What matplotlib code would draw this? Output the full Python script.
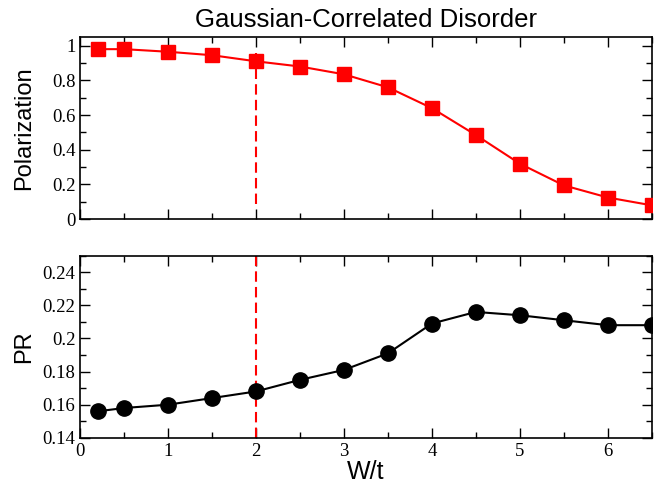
import matplotlib
matplotlib.use("Agg")
import matplotlib.pyplot as plt
from matplotlib.ticker import MultipleLocator, FormatStrFormatter

# disorder strength W/t
w_values = [0.2, 0.5, 1.0, 1.5, 2.0, 2.5, 3.0, 3.5, 4.0, 4.5, 5.0, 5.5, 6.0, 6.5]
polarization = [0.98, 0.98, 0.965, 0.945, 0.91, 0.88, 0.835, 0.76, 0.64, 0.485,
                0.32, 0.195, 0.125, 0.08]
pr_values = [0.156, 0.158, 0.160, 0.164, 0.168, 0.175, 0.181, 0.191, 0.209,
             0.216, 0.214, 0.211, 0.208, 0.208]

w_transition = 2.0
pol_line_span = [0.09, 0.96]
pr_line_span = [0.14, 0.25]

serif = "Liberation Serif"
sans = "Liberation Sans"


def style_axis(ax, ymajor, yminor):
    ax.xaxis.set_major_locator(MultipleLocator(1))
    ax.xaxis.set_minor_locator(MultipleLocator(0.5))
    ax.yaxis.set_major_locator(MultipleLocator(ymajor))
    ax.yaxis.set_minor_locator(MultipleLocator(yminor))
    ax.tick_params(which="both", direction="in", top=True, right=True, width=1.0)
    ax.tick_params(which="major", length=7, labelsize=13.5)
    ax.tick_params(which="minor", length=4)
    for lbl in ax.get_xticklabels() + ax.get_yticklabels():
        lbl.set_fontfamily(serif)
    for sp in ax.spines.values():
        sp.set_linewidth(1.2)


fig, (ax1, ax2) = plt.subplots(2, 1, figsize=(6.57, 4.87), dpi=100)
fig.subplots_adjust(left=0.122, right=0.992, top=0.924, bottom=0.101, hspace=0.2)

ax1.plot(w_values, polarization, color="red", linewidth=1.5, marker="s",
         markersize=10, zorder=3)
ax1.plot([w_transition, w_transition], pol_line_span, color="red",
         linestyle=(0, (5, 2.5)), linewidth=1.5)
ax1.set_xlim(0, 6.5)
ax1.set_ylim(0, 1.05)
ax1.yaxis.set_major_formatter(FormatStrFormatter("%g"))
style_axis(ax1, 0.2, 0.1)
ax1.tick_params(labelbottom=False)
ax1.set_ylabel("Polarization", fontsize=17, fontfamily=sans)
ax1.set_title("Gaussian-Correlated Disorder", fontsize=18.5, fontfamily=sans, pad=7)

ax2.plot(w_values, pr_values, color="black", linewidth=1.5, marker="o",
         markersize=11, zorder=3)
ax2.plot([w_transition, w_transition], pr_line_span, color="red",
         linestyle=(0, (5, 2.5)), linewidth=1.5)
ax2.set_xlim(0, 6.5)
ax2.set_ylim(0.14, 0.25)
ax2.yaxis.set_major_formatter(FormatStrFormatter("%g"))
style_axis(ax2, 0.02, 0.01)
ax2.set_ylabel("PR", fontsize=17, fontfamily=sans)
ax2.set_xlabel("W/t", fontsize=18, fontfamily=sans, labelpad=0)

for ax in (ax1, ax2):
    ax.yaxis.set_label_coords(-0.078, 0.5)

fig.savefig("out.png", dpi=100)
